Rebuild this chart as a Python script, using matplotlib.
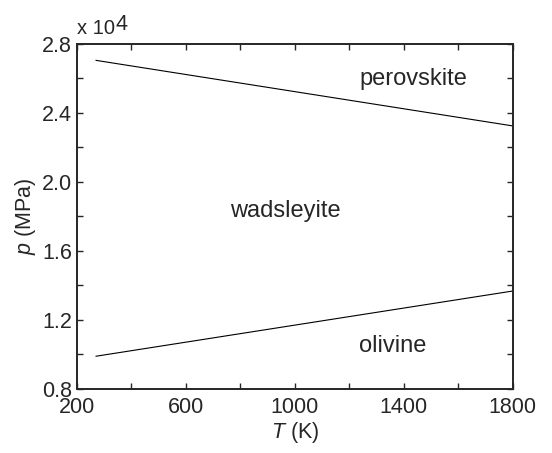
import matplotlib
matplotlib.use("Agg")
import matplotlib.pyplot as plt
from matplotlib.ticker import MultipleLocator

# phase boundaries, p in units of 1e4 MPa
T = [270, 1800]
p_upper = [2.705, 2.325]
p_lower = [0.99, 1.368]

phases = ["perovskite", "wadsleyite", "olivine"]
phase_T = [1435, 965, 1358]
phase_p = [2.562, 1.799, 1.016]

xticks = [200, 600, 1000, 1400, 1800]
yticks = [0.8, 1.2, 1.6, 2.0, 2.4, 2.8]

ink = "#262626"
plt.rcParams["font.family"] = "Liberation Sans"
plt.rcParams["mathtext.fontset"] = "custom"
plt.rcParams["mathtext.it"] = "Liberation Sans:italic"
plt.rcParams["mathtext.rm"] = "Liberation Sans"

fig = plt.figure(figsize=(5.52, 4.53), dpi=100)
ax = fig.add_axes([0.1395, 0.1413, 0.7895, 0.7616])

ax.plot(T, p_upper, color="black", linewidth=0.8)
ax.plot(T, p_lower, color="black", linewidth=0.8)

for name, t, p in zip(phases, phase_T, phase_p):
    ax.text(t, p, name, fontsize=17, ha="center", va="baseline", color=ink)

ax.set_xlim(200, 1800)
ax.set_ylim(0.8, 2.8)
ax.set_xticks(xticks)
ax.set_yticks(yticks)
ax.set_yticklabels([f"{v:.1f}" for v in yticks])
ax.xaxis.set_minor_locator(MultipleLocator(200))
ax.yaxis.set_minor_locator(MultipleLocator(0.2))
ax.tick_params(which="both", direction="in", top=True, right=True,
               labelsize=15.5, colors=ink)
ax.tick_params(axis="x", pad=6)
ax.tick_params(axis="y", pad=3.5)
ax.tick_params(which="both", length=4, width=1)
for s in ax.spines.values():
    s.set_linewidth(1.4)
    s.set_color(ink)

ax.set_xlabel(r"$T$ (K)", fontsize=15.5, color=ink, labelpad=1)
ax.set_ylabel(r"$p$ (MPa)", fontsize=15.5, color=ink, labelpad=3)
fig.text(0.1395, 0.925, "x 10", fontsize=14.5, ha="left", va="baseline", color=ink)
fig.text(0.2101, 0.9338, "4", fontsize=15.5, ha="left", va="baseline", color=ink)

fig.savefig("out.png", dpi=100)
